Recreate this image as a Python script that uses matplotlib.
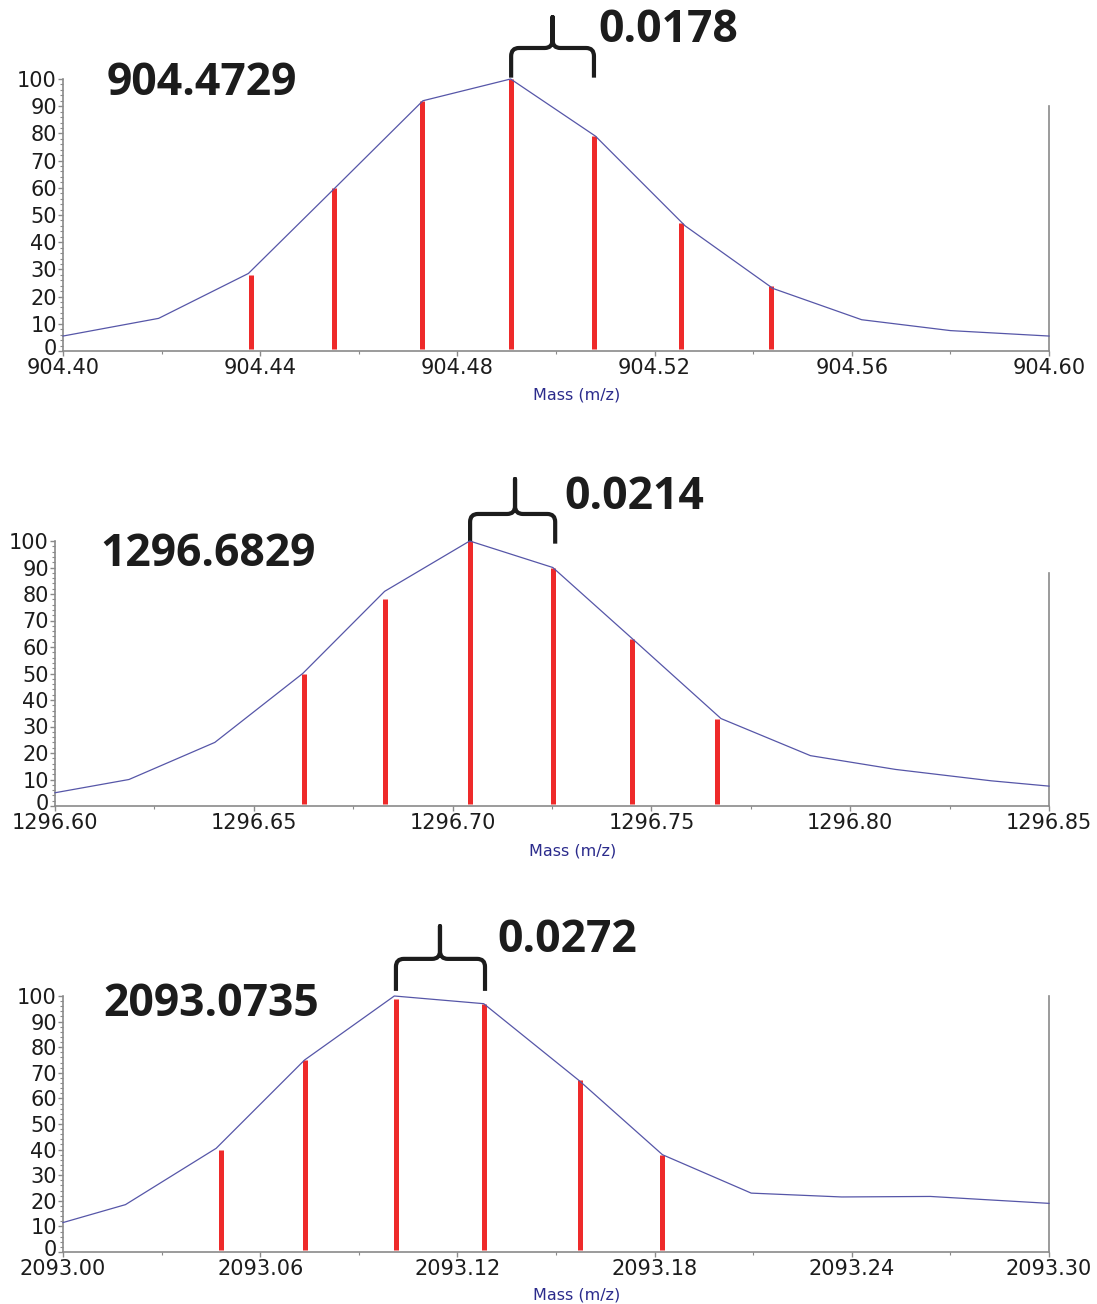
import matplotlib
matplotlib.use("Agg")
import numpy as np
import matplotlib.pyplot as plt
import matplotlib.transforms as mtransforms
from matplotlib.path import Path
from matplotlib.patches import PathPatch
from matplotlib.ticker import FormatStrFormatter

# --- 904 m/z cluster ---
stick_mz_1 = [904.4381, 904.4550, 904.4729, 904.4909, 904.5077, 904.5254, 904.5436]
stick_int_1 = [28, 60, 92, 100, 79, 47, 24]
prof_mz_1 = [904.40, 904.4194, 904.4376, 904.4552, 904.4730, 904.4908, 904.5080,
             904.5262, 904.5440, 904.5620, 904.5800, 904.60]
prof_int_1 = [5.5, 12, 28.5, 60, 92, 100, 79, 46, 23, 11.5, 7.5, 5.5]

# --- 1296 m/z cluster ---
stick_mz_2 = [1296.6625, 1296.6829, 1296.7044, 1296.7253, 1296.7451, 1296.7665]
stick_int_2 = [50, 78, 100, 90, 63, 33]
prof_mz_2 = [1296.60, 1296.6186, 1296.6402, 1296.6623, 1296.6829, 1296.7043, 1296.7252,
             1296.7453, 1296.7675, 1296.79, 1296.8114, 1296.8355, 1296.85]
prof_int_2 = [5.0, 10.0, 24, 50, 81, 100, 90, 63, 33, 19, 13.8, 9.5, 7.5]

# --- 2093 m/z cluster ---
stick_mz_3 = [2093.0481, 2093.0735, 2093.1013, 2093.1282, 2093.1572, 2093.1822]
stick_int_3 = [40, 75, 99, 97, 67, 38]
prof_mz_3 = [2093.00, 2093.019, 2093.0466, 2093.0735, 2093.1008, 2093.128, 2093.157,
             2093.1824, 2093.2094, 2093.2369, 2093.2639, 2093.30]
prof_int_3 = [11.5, 18.5, 40.5, 75, 100, 97, 67, 38, 23, 21.5, 21.7, 19]

mass_labels = ["904.4729", "1296.6829", "2093.0735"]
spacing_labels = ["0.0178", "0.0214", "0.0272"]
x_ranges = [(904.40, 904.60), (1296.60, 1296.85), (2093.00, 2093.30)]
x_major = [0.04, 0.05, 0.06]
right_edge_top = [90, 88, 100]

RED = "#ee2a2a"
BLUE = "#5656a8"
GREY = "#8a8a8a"
INK = "#1c1c1c"

fig = plt.figure(figsize=(10.97, 13.04), dpi=100)
W, H = 1097, 1304

# axes boxes in pixels: left, right, top, bottom
boxes = [(63, 1049, 79, 351), (55, 1049, 541, 806), (63, 1049, 996, 1252)]

# text anchors in axes fraction (mass label, spacing label), xlabel y
label_pos = [((0.0446, 0.941), (0.5426, 1.136), -0.136),
             ((0.0453, 0.906), (0.512, 1.121), -0.140),
             ((0.0406, 0.922), (0.441, 1.172), -0.137)]

# brace geometry: x0, xm, x1, y bottom, y bar, y tip, rx, ry
braces = [(904.4909, 904.4993, 904.5077, 100.5, 111.4, 122.8, 0.0016, 3.0),
          (1296.7044, 1296.7157, 1296.7258, 99.0, 110.2, 123.4, 0.0020, 3.0),
          (2093.1013, 2093.1147, 2093.1284, 102.0, 114.5, 127.3, 0.0024, 3.1)]

sticks = [(stick_mz_1, stick_int_1), (stick_mz_2, stick_int_2), (stick_mz_3, stick_int_3)]
profiles = [(prof_mz_1, prof_int_1), (prof_mz_2, prof_int_2), (prof_mz_3, prof_int_3)]


def brace_path(x0, xm, x1, yb, yh, yt, rx, ry):
    verts = [(x0, yb), (x0, yh - ry), (x0, yh), (x0 + rx, yh),
             (xm - rx, yh), (xm, yh), (xm, yh + ry), (xm, yt),
             (xm, yh + ry), (xm, yh), (xm + rx, yh),
             (x1 - rx, yh), (x1, yh), (x1, yh - ry), (x1, yb)]
    codes = [Path.MOVETO, Path.LINETO, Path.CURVE3, Path.CURVE3,
             Path.LINETO, Path.CURVE3, Path.CURVE3, Path.LINETO,
             Path.LINETO, Path.CURVE3, Path.CURVE3,
             Path.LINETO, Path.CURVE3, Path.CURVE3, Path.LINETO]
    return Path(verts, codes)


for i in range(3):
    l, r, t, b = boxes[i]
    ax = fig.add_axes([l / W, 1 - b / H, (r - l) / W, (b - t) / H])
    xmin, xmax = x_ranges[i]

    mz, inten = profiles[i]
    ax.plot(mz, inten, color=BLUE, lw=0.9, clip_on=False, zorder=3)
    smz, sint = sticks[i]
    ax.vlines(smz, 0.6, sint, color=RED, lw=3.6, zorder=2)

    # right-hand frame edge
    ax.plot([xmax, xmax], [0, right_edge_top[i]], color=GREY, lw=1.2, clip_on=False)

    ax.set_xlim(xmin, xmax)
    ax.set_ylim(0, 100)
    step = x_major[i]
    n = int(round((xmax - xmin) / step))
    ax.set_xticks(xmin + step * np.arange(n + 1))
    ax.set_xticks(xmin + step / 2 * np.arange(2 * n + 1), minor=True)
    ax.xaxis.set_major_formatter(FormatStrFormatter("%.2f"))
    ax.set_yticks(np.arange(0, 101, 10))
    ax.set_yticks(np.arange(0, 101, 2), minor=True)

    for side in ("top", "right"):
        ax.spines[side].set_visible(False)
    for side in ("left", "bottom"):
        ax.spines[side].set_color(GREY)
        ax.spines[side].set_linewidth(1.2)

    ax.tick_params(which="major", direction="out", length=3.5, width=1, color=GREY,
                   labelsize=15, labelcolor=INK)
    ax.tick_params(axis="x", which="major", pad=1.5)
    ax.tick_params(axis="y", which="major", pad=1)
    ax.tick_params(which="minor", direction="out", length=2.5, width=0.8, color=GREY)
    for lab in ax.get_xticklabels() + ax.get_yticklabels():
        lab.set_family("DejaVu Sans")

    # nudge the "0" label up so it clears the first mass label
    zero_lab = ax.yaxis.get_major_ticks()[0].label1
    zero_lab.set_transform(zero_lab.get_transform() +
                           mtransforms.ScaledTranslation(0, 3 / 72, fig.dpi_scale_trans))

    ax.set_xlabel("Mass (m/z)", color="#2b2b8c", fontsize=11.5)
    ax.xaxis.set_label_coords(0.521, label_pos[i][2])

    (mx, my), (sx, sy), _ = label_pos[i]
    ax.text(mx, my, mass_labels[i], transform=ax.transAxes, ha="left", va="baseline",
            fontsize=32, fontweight="bold", family="Open Sans", color=INK)
    ax.text(sx, sy, spacing_labels[i], transform=ax.transAxes, ha="left", va="baseline",
            fontsize=32, fontweight="bold", family="Open Sans", color=INK)

    ax.add_patch(PathPatch(brace_path(*braces[i]), fill=False, edgecolor=INK,
                           lw=3.0, capstyle="butt", joinstyle="round", clip_on=False))

fig.savefig("out.png", dpi=100)
